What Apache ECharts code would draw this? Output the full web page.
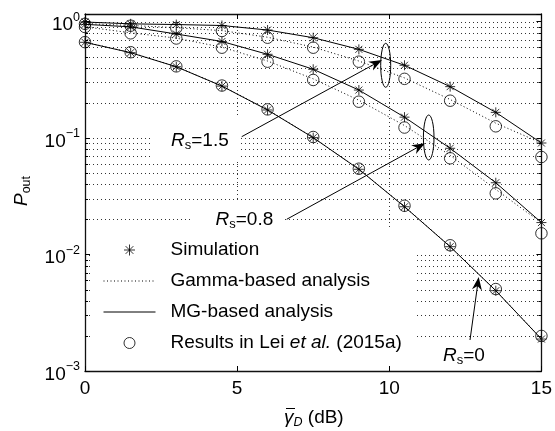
<!DOCTYPE html>
<html>
<head>
<meta charset="utf-8">
<script src="https://cdn.jsdelivr.net/npm/echarts@6/dist/echarts.min.js"></script>
<style>
html, body { margin: 0; padding: 0; background: #fff; }
#chart { width: 555px; height: 431px; }
</style>
</head>
<body>
<div id="chart"></div>
<script>
// x positions of the points (dB)
var snrDb = [0, 1.5, 3, 4.5, 6, 7.5, 9, 10.5, 12, 13.5, 15];

// Rs = 0
var simRs0   = [0.663, 0.540, 0.409, 0.279, 0.174, 0.1007, 0.0539, 0.0257, 0.01167, 0.00489, 0.00188];
var gammaRs0 = [0.665, 0.542, 0.410, 0.280, 0.175, 0.101, 0.0540, 0.0258, 0.0117, 0.00490, 0.00189];
var mgRs0    = [0.663, 0.540, 0.409, 0.279, 0.174, 0.1007, 0.0539, 0.0257, 0.01167, 0.00489, 0.00188];
var leiRs0   = [0.665, 0.545, 0.412, 0.282, 0.176, 0.102, 0.0545, 0.0262, 0.0120, 0.00505, 0.00200];

// Rs = 0.8
var simRs08   = [0.945, 0.900, 0.781, 0.674, 0.523, 0.389, 0.258, 0.151, 0.0816, 0.0413, 0.0188];
var gammaRs08 = [0.900, 0.800, 0.720, 0.602, 0.458, 0.322, 0.211, 0.128, 0.0710, 0.0362, 0.0187];
var mgRs08    = [0.945, 0.900, 0.781, 0.674, 0.523, 0.389, 0.258, 0.151, 0.0816, 0.0413, 0.0188];
var leiRs08   = [0.897, 0.792, 0.715, 0.596, 0.452, 0.315, 0.205, 0.123, 0.0670, 0.0335, 0.0152];

// Rs = 1.5
var simRs15   = [0.990, 0.955, 0.942, 0.924, 0.845, 0.726, 0.577, 0.421, 0.276, 0.166, 0.0906];
var gammaRs15 = [0.960, 0.925, 0.885, 0.835, 0.733, 0.603, 0.458, 0.328, 0.214, 0.134, 0.0905];
var mgRs15    = [0.990, 0.955, 0.942, 0.924, 0.845, 0.726, 0.577, 0.421, 0.276, 0.166, 0.0906];
var leiRs15   = [0.955, 0.920, 0.880, 0.829, 0.726, 0.596, 0.452, 0.322, 0.209, 0.126, 0.0687];

// axes
var xTicks = [0, 5, 10, 15];
var yDecades = [0.001, 0.01, 0.1, 1];
var X_MIN = 0, X_MAX = 15, Y_MIN = 0.001, Y_MAX = 1.16;

var NAME_SIM = 'Simulation',
    NAME_GAMMA = 'Gamma-based analysis',
    NAME_MG = 'MG-based analysis',
    NAME_LEI = 'Results in Lei et al. (2015a)';

var FONT = "'Liberation Sans', Arial, Helvetica, sans-serif";
var STAR = 'path://M5,0L5,10M0,5L10,5M1.5,1.5L8.5,8.5M1.5,8.5L8.5,1.5';
var GAMMA_DASH = [1, 2.5];

// minor gridline levels 2..9 in each decade
var minorLevels = [];
yDecades.slice(0, 3).forEach(function (d) {
    for (var k = 2; k <= 9; k++) minorLevels.push(+(d * k).toPrecision(3));
});
var hGridLevels = minorLevels.concat(yDecades.slice(1));

function pairs(arr) {
    return snrDb.map(function (x, i) { return [x, arr[i]]; });
}

function simSeries(arr) {
    return {
        name: NAME_SIM, type: 'scatter', z: 4,
        symbol: STAR, symbolSize: 10,
        itemStyle: { color: 'transparent', borderColor: '#000', borderWidth: 1 },
        data: pairs(arr)
    };
}
function leiSeries(arr) {
    return {
        name: NAME_LEI, type: 'scatter', z: 4,
        symbol: 'circle', symbolSize: 11.5,
        itemStyle: { color: 'transparent', borderColor: '#000', borderWidth: 1 },
        data: pairs(arr)
    };
}
function gammaSeries(arr) {
    return {
        name: NAME_GAMMA, type: 'line', z: 3, symbol: 'none',
        itemStyle: { color: 'transparent' },
        lineStyle: { color: '#000', width: 1, type: GAMMA_DASH },
        data: pairs(arr)
    };
}
function mgSeries(arr) {
    return {
        name: NAME_MG, type: 'line', z: 3, symbol: 'none',
        itemStyle: { color: 'transparent' },
        lineStyle: { color: '#000', width: 1 },
        data: pairs(arr)
    };
}

var gridDot = { stroke: '#000', lineWidth: 1, lineDash: [1, 3], opacity: 0.8 };

// dotted grid (under the white text boxes)
var hGridSeries = {
    type: 'custom', z: 0, silent: true,
    data: hGridLevels.map(function (v) { return [X_MIN, v]; }),
    renderItem: function (params, api) {
        var v = api.value(1);
        var p0 = api.coord([X_MIN, v]), p1 = api.coord([X_MAX, v]);
        var y = Math.round(p0[1]) + 0.5;
        return { type: 'line', shape: { x1: p0[0], y1: y, x2: p1[0], y2: y }, style: gridDot };
    }
};
var vGridSeries = {
    type: 'custom', z: 0, silent: true,
    data: xTicks.slice(1, 3).map(function (x) { return [x, Y_MIN]; }),
    renderItem: function (params, api) {
        var x = api.value(0);
        var p0 = api.coord([x, Y_MIN]), p1 = api.coord([x, Y_MAX]);
        var xx = Math.round(p0[0]) + 0.5;
        return { type: 'line', shape: { x1: xx, y1: p1[1], x2: xx, y2: p0[1] }, style: gridDot };
    }
};
// minor ticks on left and right borders
var minorTickSeries = {
    type: 'custom', z: 6, silent: true,
    data: minorLevels.map(function (v) { return [X_MIN, v]; }),
    renderItem: function (params, api) {
        var v = api.value(1);
        var p0 = api.coord([X_MIN, v]), p1 = api.coord([X_MAX, v]);
        var y = Math.round(p0[1]) + 0.5;
        var st = { stroke: '#000', lineWidth: 1 };
        return {
            type: 'group',
            children: [
                { type: 'line', shape: { x1: p0[0], y1: y, x2: p0[0] + 3, y2: y }, style: st },
                { type: 'line', shape: { x1: p1[0] - 3, y1: y, x2: p1[0], y2: y }, style: st }
            ]
        };
    }
};

function yLabel(value) {
    var e = Math.round(Math.log(value) / Math.LN10);
    if (Math.abs(value - Math.pow(10, e)) > 1e-9 * Math.pow(10, e)) return '';
    return '{b|10}{s|' + (e < 0 ? '\u2212' + (-e) : e) + '}';
}

var axisLineStyle = { color: '#111', width: 1.3 };
function xAxisOpt(pos, showLabel) {
    return {
        type: 'value', position: pos, min: X_MIN, max: X_MAX, interval: 5, z: 5,
        axisLine: { show: true, onZero: false, lineStyle: axisLineStyle },
        axisTick: { show: true, inside: true, length: 5, lineStyle: { color: '#000' } },
        axisLabel: { show: showLabel, margin: 8, fontSize: 19, color: '#000', fontFamily: FONT },
        splitLine: { show: false }
    };
}
function yAxisOpt(pos, showLabel) {
    return {
        type: 'log', position: pos, min: Y_MIN, max: Y_MAX, z: 5,
        axisLine: { show: true, onZero: false, lineStyle: axisLineStyle },
        axisTick: { show: true, inside: true, length: 5, lineStyle: { color: '#000' } },
        axisLabel: {
            show: showLabel, margin: 5, formatter: yLabel, padding: [7, 0, 0, 0],
            rich: {
                b: { fontSize: 19, lineHeight: 28, verticalAlign: 'middle', color: '#000', fontFamily: FONT },
                s: { fontSize: 12.5, lineHeight: 10, verticalAlign: 'top', color: '#000', fontFamily: FONT }
            }
        },
        splitLine: { show: false }
    };
}

// annotation helpers (pixel layout)
function rsText(x, y, val) {
    return {
        type: 'text', x: x, y: y, z: 7, silent: true,
        style: {
            text: '{i|R}{s|s}{n|=' + val + '}',
            align: 'left', verticalAlign: 'middle', textAlign: 'left', textVerticalAlign: 'middle',
            fill: '#000',
            rich: {
                i: { fontSize: 19, fontStyle: 'italic', lineHeight: 22, verticalAlign: 'middle', fontFamily: FONT, fill: '#000' },
                s: { fontSize: 13, lineHeight: 12, verticalAlign: 'bottom', fontFamily: FONT, fill: '#000' },
                n: { fontSize: 19, lineHeight: 22, verticalAlign: 'middle', fontFamily: FONT, fill: '#000' }
            }
        }
    };
}
function arrow(x1, y1, x2, y2) {
    var a = Math.atan2(y2 - y1, x2 - x1), L = 13, W = 5, N = 9;
    var ux = Math.cos(a), uy = Math.sin(a), px = -uy, py = ux;
    return [
        { type: 'line', z: 7, silent: true, shape: { x1: x1, y1: y1, x2: x2 - N * ux, y2: y2 - N * uy }, style: { stroke: '#000', lineWidth: 1 } },
        { type: 'polygon', z: 7, silent: true, shape: { points: [
            [x2, y2],
            [x2 - L * ux + W * px, y2 - L * uy + W * py],
            [x2 - N * ux, y2 - N * uy],
            [x2 - L * ux - W * px, y2 - L * uy - W * py]
        ] }, style: { fill: '#000' } }
    ];
}
function ellipse(cx, cy, rx, ry) {
    return { type: 'ellipse', z: 7, silent: true, shape: { cx: cx, cy: cy, rx: rx, ry: ry }, style: { fill: 'none', stroke: '#000', lineWidth: 1 } };
}
function whiteBox(x, y, w, h) {
    return { type: 'rect', z: 1, silent: true, shape: { x: x, y: y, width: w, height: h }, style: { fill: '#fff' } };
}

var graphics = [
    whiteBox(90, 228, 327, 142),
    whiteBox(150, 118, 91, 42),
    whiteBox(192, 201, 91, 32),
    rsText(171, 140.5, '1.5'),
    rsText(215.5, 220, '0.8'),
    rsText(443, 356, '0'),
    ellipse(385.7, 65.3, 5, 22),
    ellipse(428.7, 137.5, 5.3, 22.5),
    {
        type: 'text', x: 22, y: 191, rotation: Math.PI / 2, z: 7, silent: true,
        style: {
            text: '{p|P}{o|out}', align: 'center', verticalAlign: 'middle',
            textAlign: 'center', textVerticalAlign: 'middle', fill: '#000',
            rich: {
                p: { fontSize: 19, fontStyle: 'italic', lineHeight: 22, verticalAlign: 'middle', fontFamily: FONT, fill: '#000' },
                o: { fontSize: 12.5, lineHeight: 12, verticalAlign: 'bottom', fontFamily: FONT, fill: '#000' }
            }
        }
    },
    {
        type: 'text', x: 284, y: 418, z: 7, silent: true,
        style: {
            text: '{g|\u03b3}{d|D}{n| (dB)}', align: 'left', verticalAlign: 'middle',
            textAlign: 'left', textVerticalAlign: 'middle', fill: '#000',
            rich: {
                g: { fontSize: 19, fontStyle: 'italic', lineHeight: 22, verticalAlign: 'middle', fontFamily: FONT, fill: '#000' },
                d: { fontSize: 12.5, fontStyle: 'italic', lineHeight: 12, verticalAlign: 'bottom', fontFamily: FONT, fill: '#000' },
                n: { fontSize: 19, lineHeight: 22, verticalAlign: 'middle', fontFamily: FONT, fill: '#000' }
            }
        }
    },
    { type: 'line', z: 7, silent: true, shape: { x1: 286, y1: 408.5, x2: 295, y2: 408.5 }, style: { stroke: '#000', lineWidth: 1 } }
].concat(arrow(241.7, 136.7, 382, 60))
 .concat(arrow(286.7, 219.3, 425, 143.3))
 .concat(arrow(470, 340, 478.7, 277));

var option = {
    animation: false,
    backgroundColor: '#fff',
    textStyle: { fontFamily: FONT },
    grid: { left: 85, right: 11, top: 14, bottom: 60, containLabel: false },
    xAxis: [xAxisOpt('bottom', true), xAxisOpt('top', false)],
    yAxis: [yAxisOpt('left', true), yAxisOpt('right', false)],
    legend: {
        orient: 'vertical', left: 103, top: 240, padding: 0,
        itemGap: 11, itemWidth: 52, itemHeight: 11,
        selectedMode: false, z: 4,
        textStyle: {
            fontSize: 19, lineHeight: 20, color: '#000', fontFamily: FONT, padding: [0, 0, 0, 10],
            rich: {
                a: { fontSize: 19, lineHeight: 20, color: '#000', fontFamily: FONT },
                i: { fontSize: 19, lineHeight: 20, color: '#000', fontFamily: FONT, fontStyle: 'italic' }
            }
        },
        formatter: function (name) {
            if (name === NAME_LEI) return '{a|Results in Lei }{i|et al.}{a| (2015a)}';
            return name;
        },
        data: [
            { name: NAME_SIM, icon: STAR, itemStyle: { color: 'transparent', borderColor: '#000', borderWidth: 1 } },
            { name: NAME_GAMMA, itemStyle: { color: 'transparent', borderWidth: 0, opacity: 0 }, lineStyle: { color: '#000', width: 1, type: GAMMA_DASH } },
            { name: NAME_MG, itemStyle: { color: 'transparent', borderWidth: 0, opacity: 0 }, lineStyle: { color: '#000', width: 1, type: 'solid' } },
            { name: NAME_LEI, icon: 'circle', itemStyle: { color: 'transparent', borderColor: '#000', borderWidth: 1 } }
        ]
    },
    graphic: graphics,
    series: [
        hGridSeries, vGridSeries,
        gammaSeries(gammaRs0), gammaSeries(gammaRs08), gammaSeries(gammaRs15),
        mgSeries(mgRs0), mgSeries(mgRs08), mgSeries(mgRs15),
        simSeries(simRs0), simSeries(simRs08), simSeries(simRs15),
        leiSeries(leiRs0), leiSeries(leiRs08), leiSeries(leiRs15),
        minorTickSeries
    ]
};

var chart = echarts.init(document.getElementById('chart'));
chart.setOption(option);
</script>
</body>
</html>
